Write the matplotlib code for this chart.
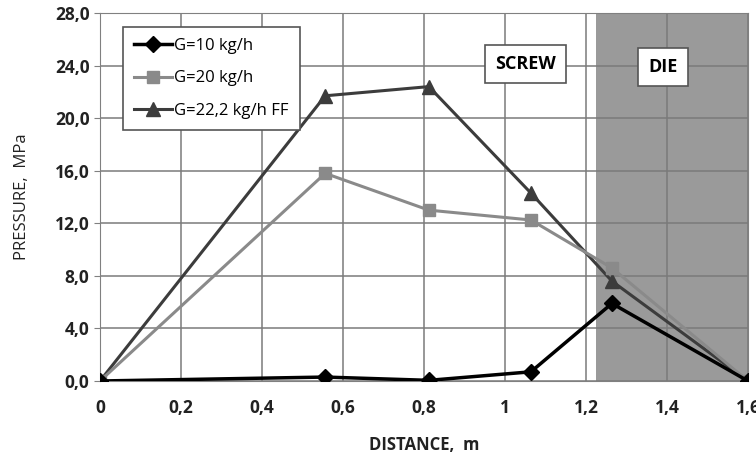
import matplotlib
matplotlib.use("Agg")
import matplotlib.pyplot as plt
from matplotlib.ticker import FuncFormatter, MultipleLocator

distance = [0.0, 0.556, 0.812, 1.064, 1.264, 1.6]
g10 = [0.0, 0.3, 0.05, 0.7, 5.9, 0.0]
g20 = [0.0, 15.8, 13.0, 12.25, 8.6, 0.0]
g22 = [0.0, 21.7, 22.4, 14.3, 7.6, 0.0]
labels = ["G=10 kg/h", "G=20 kg/h", "G=22,2 kg/h FF"]
die_start, die_end = 1.225, 1.6

plt.rcParams['font.family'] = ['Open Sans', 'DejaVu Sans']

fig = plt.figure(figsize=(7.56, 4.66), dpi=100)
ax = fig.add_axes([100/756, 85/466, 648/756, 368/466])

ax.axvspan(die_start, die_end, color='#9a9a9a', zorder=0, lw=0)

ax.plot(distance, g22, color='#3c3c3c', lw=2.2, marker='^', ms=10, label=labels[2], zorder=3)
ax.plot(distance, g20, color='#8a8a8a', lw=2.2, marker='s', ms=9, label=labels[1], zorder=4)
ax.plot(distance, g10, color='#000000', lw=2.5, marker='D', ms=8, label=labels[0], zorder=5)

ax.set_xlim(0, 1.6)
ax.set_ylim(0, 28)
ax.xaxis.set_major_locator(MultipleLocator(0.2))
ax.yaxis.set_major_locator(MultipleLocator(4))

def xf(v, p):
    s = ('%.1f' % v).rstrip('0').rstrip('.')
    return s.replace('.', ',')
ax.xaxis.set_major_formatter(FuncFormatter(xf))
ax.yaxis.set_major_formatter(FuncFormatter(lambda v, p: ('%.1f' % v).replace('.', ',')))

ax.grid(True, color='#7a7a7a', lw=1.1, zorder=1)
ax.set_axisbelow(True)
for s in ax.spines.values():
    s.set_color('#808080')
ax.tick_params(axis='both', colors='#808080', length=4, labelcolor='#222222', labelsize=12.5)
for t in ax.get_xticklabels() + ax.get_yticklabels():
    t.set_fontweight('bold')
ax.tick_params(axis='x', length=0, pad=13)

ax.set_ylabel('PRESSURE,  MPa', fontsize=12, color='#222222', labelpad=18)
ax.set_xlabel('DISTANCE,  m', fontsize=12, fontweight='bold', color='#222222', labelpad=14)

h, l = ax.get_legend_handles_labels()
leg = ax.legend(h[::-1], l[::-1], loc='upper left', bbox_to_anchor=(0.035, 0.962),
                fontsize=12, frameon=True, fancybox=False, edgecolor='#555555',
                framealpha=1, handlelength=2.3, borderpad=0.65, labelspacing=1.0,
                handletextpad=0.15, borderaxespad=0)
leg.get_frame().set_linewidth(1.2)

box = dict(boxstyle='square,pad=0.55', fc='white', ec='#555555', lw=1.2)
ax.text(1.05, 24.1, 'SCREW', ha='center', va='center', fontsize=13, fontweight='bold', bbox=box, zorder=6)
ax.text(1.39, 23.9, 'DIE', ha='center', va='center', fontsize=13, fontweight='bold', bbox=box, zorder=6)

fig.savefig('out.png', dpi=100)
